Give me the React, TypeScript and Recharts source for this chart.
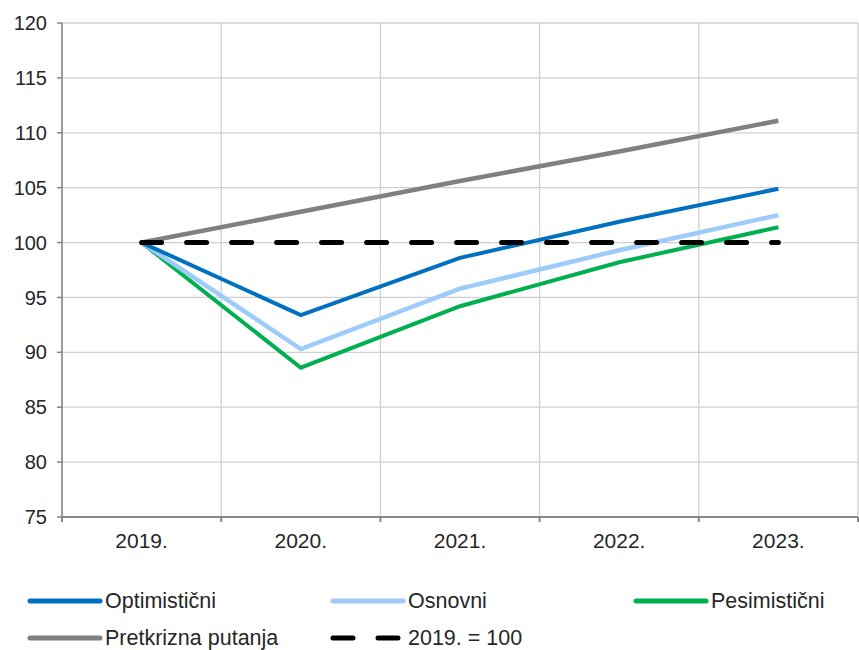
import { LineChart, Line, XAxis, YAxis, CartesianGrid } from "recharts";

const years = ["2019.", "2020.", "2021.", "2022.", "2023."];
const optimisticni = [100, 93.4, 98.6, 101.9, 104.9];
const osnovni = [100, 90.3, 95.8, 99.3, 102.5];
const pesimisticni = [100, 88.6, 94.2, 98.2, 101.4];
const pretkrizna = [100, 102.8, 105.6, 108.3, 111.1];
const baseline = [100, 100, 100, 100, 100];
const yTicks = [75, 80, 85, 90, 95, 100, 105, 110, 115, 120];
const gridTicks = [0, 1, 2, 3, 4, 5];

const data = years.map((year, i) => ({
  year,
  optimisticni: optimisticni[i],
  osnovni: osnovni[i],
  pesimisticni: pesimisticni[i],
  pretkrizna: pretkrizna[i],
  baseline: baseline[i],
}));

const FONT = "'Liberation Sans', Arial, sans-serif";
const TEXT = "#262626";

const legendRows = [
  [
    { color: "#0070c0", label: "Optimistični" },
    { color: "#9dcbfa", label: "Osnovni" },
    { color: "#00b050", label: "Pesimistični" },
  ],
  [
    { color: "#808080", label: "Pretkrizna putanja" },
    { color: "#000000", label: "2019. = 100", dashed: true },
  ],
];

function LegendKey({ color, dashed }: { color: string; dashed?: boolean }) {
  return (
    <svg width={76} height={8} style={{ marginRight: 2 }}>
      <line
        x1={3}
        x2={73}
        y1={4}
        y2={4}
        stroke={color}
        strokeWidth={5}
        strokeLinecap="round"
        strokeDasharray={dashed ? "20 25" : undefined}
      />
    </svg>
  );
}

export default function App() {
  return (
    <div
      style={{
        position: "absolute",
        left: 0,
        top: 0,
        width: 859,
        height: 650,
        background: "#fff",
        fontFamily: FONT,
      }}
    >
      <LineChart
        width={859}
        height={565}
        data={data}
        margin={{ top: 23, right: 1, left: 8, bottom: 0 }}
      >
        <CartesianGrid xAxisId="a_grid" stroke="#d0d0d0" strokeWidth={1.3} />
        {/* boundary axis: draws the axis line, tick marks and vertical grid between years */}
        <XAxis
          xAxisId="a_grid"
          type="number"
          dataKey="none"
          domain={[0, 5]}
          allowDataOverflow
          ticks={gridTicks}
          tickFormatter={() => ""}
          stroke="#868686"
          strokeWidth={2}
          tickSize={5}
          height={2}
        />
        <XAxis
          xAxisId="b_cat"
          dataKey="year"
          scale="band"
          axisLine={false}
          tickLine={false}
          height={46}
          tick={{ fontSize: 21, fill: TEXT, fontFamily: FONT, dy: 6 }}
        />
        <YAxis
          domain={[75, 120]}
          ticks={yTicks}
          width={54}
          stroke="#868686"
          strokeWidth={1.5}
          tickSize={5}
          tickMargin={10}
          tick={{ fontSize: 20, fill: TEXT, fontFamily: FONT }}
        />
        <Line
          xAxisId="b_cat"
          dataKey="pretkrizna"
          stroke="#808080"
          strokeWidth={4.5}
          dot={false}
          isAnimationActive={false}
        />
        <Line
          xAxisId="b_cat"
          dataKey="pesimisticni"
          stroke="#00b050"
          strokeWidth={4}
          dot={false}
          isAnimationActive={false}
        />
        <Line
          xAxisId="b_cat"
          dataKey="osnovni"
          stroke="#9dcbfa"
          strokeWidth={4.5}
          dot={false}
          isAnimationActive={false}
        />
        <Line
          xAxisId="b_cat"
          dataKey="optimisticni"
          stroke="#0070c0"
          strokeWidth={4}
          dot={false}
          isAnimationActive={false}
        />
        <Line
          xAxisId="b_cat"
          dataKey="baseline"
          stroke="#000000"
          strokeWidth={5}
          strokeDasharray="20 25"
          strokeLinecap="round"
          dot={false}
          isAnimationActive={false}
        />
      </LineChart>
      <div style={{ position: "absolute", left: 27, top: 589 }}>
        {legendRows.map((row, r) => (
          <div key={r} style={{ display: "flex", height: 37 }}>
            {row.map((item) => (
              <div
                key={item.label}
                style={{ display: "flex", alignItems: "center", width: 303, height: 24 }}
              >
                <LegendKey color={item.color} dashed={item.dashed} />
                <span style={{ fontSize: 21.5, color: TEXT }}>{item.label}</span>
              </div>
            ))}
          </div>
        ))}
      </div>
    </div>
  );
}
